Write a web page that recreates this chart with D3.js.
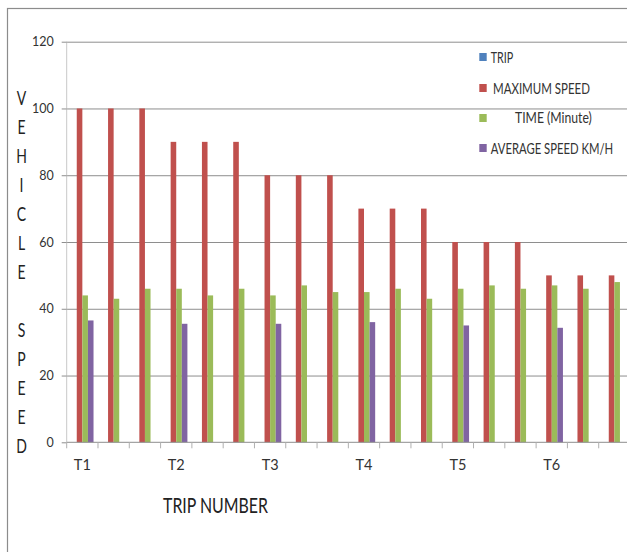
<!DOCTYPE html>
<html>
<head>
<meta charset="utf-8">
<script src="https://cdn.jsdelivr.net/npm/d3@7/dist/d3.min.js"></script>
<style>
  html, body { margin: 0; padding: 0; background: #fff; }
  svg { display: block; font-family: Lato, "Open Sans", sans-serif; }
</style>
</head>
<body>
<svg id="chart" width="627" height="552"></svg>
<script>
// Trip records: one entry per run, grouped in threes under T1..T6
const tripIds = [1, 2, 3, 4, 5, 6, 7, 8, 9, 10, 11, 12, 13, 14, 15, 16, 17, 18];
const tickLabels = ["T1", "", "", "T2", "", "", "T3", "", "", "T4", "", "", "T5", "", "", "T6", "", ""];
const seriesNames = ["TRIP", "MAXIMUM SPEED", "TIME (Minute)", "AVERAGE SPEED KM/H"];
const seriesColors = ["#4F81BD", "#C0504D", "#9BBB59", "#8064A2"];
const tripValues = [0, 0, 0, 0, 0, 0, 0, 0, 0, 0, 0, 0, 0, 0, 0, 0, 0, 0];
const maxSpeed = [100, 100, 100, 90, 90, 90, 80, 80, 80, 70, 70, 70, 60, 60, 60, 50, 50, 50];
const timeMinute = [44, 43, 46, 46, 44, 46, 44, 47, 45, 45, 46, 43, 46, 47, 46, 47, 46, 48];
const avgSpeed = [36.5, null, null, 35.5, null, null, 35.5, null, null, 36, null, null, 35, null, null, 34.3, null, null];
const yTicks = [0, 20, 40, 60, 80, 100, 120];
const yTitle = ["V", "E", "H", "I", "C", "L", "E", "", "S", "P", "E", "E", "D"];
const xTitle = "TRIP NUMBER";

const seriesValues = [tripValues, maxSpeed, timeMinute, avgSpeed];

const svg = d3.select("#chart");
const plot = { left: 66.7, right: 630, top: 41.7, bottom: 442.3 };

// squeeze a text horizontally so it spans the given width
function fitWidth(sel, x, y, width) {
  const natural = sel.node().getComputedTextLength();
  sel.attr("transform", `translate(${x},${y}) scale(${width / natural},1)`);
}

// outer chart frame
svg.append("rect")
  .attr("x", 7.5).attr("y", 8.5)
  .attr("width", 660).attr("height", 600)
  .attr("fill", "none").attr("stroke", "#8c8c8c").attr("stroke-width", 1.2);

const x0 = d3.scaleBand().domain(tripIds).range([plot.left, plot.right]).padding(0);
const x1 = d3.scaleBand().domain(d3.range(seriesNames.length))
  .range([0, x0.bandwidth()]).paddingInner(0).paddingOuter(0.8);
const y = d3.scaleLinear().domain([0, 120]).range([plot.bottom, plot.top]);

// horizontal gridlines
svg.append("g")
  .attr("transform", `translate(${plot.left},0)`)
  .call(d3.axisLeft(y).tickValues(yTicks.filter(v => v > 0)).tickSize(-(plot.right - plot.left)).tickFormat(""))
  .call(g => g.select(".domain").remove())
  .call(g => g.selectAll("line").attr("stroke", "#8e8e8e").attr("stroke-width", 1));

// value axis
const yAxis = svg.append("g")
  .attr("transform", `translate(${plot.left},0)`)
  .call(d3.axisLeft(y).tickValues(yTicks).tickSize(5).tickPadding(8));
yAxis.select(".domain").attr("stroke", "#c8c8c8").attr("d", `M0,${plot.top}V${plot.bottom}`);
yAxis.selectAll("line").attr("stroke", "#8e8e8e");
yAxis.selectAll("text").attr("font-size", 12.5).attr("fill", "#333")
  .attr("font-family", "Lato, sans-serif");

// bars
const groups = svg.append("g").selectAll("g")
  .data(tripIds)
  .join("g")
  .attr("transform", d => `translate(${x0(d)},0)`);

groups.selectAll("rect")
  .data((d, i) => seriesValues.map((vals, s) => ({ s, v: vals[i] })).filter(e => e.v != null && e.v > 0))
  .join("rect")
  .attr("x", e => x1(e.s))
  .attr("width", x1.bandwidth())
  .attr("y", e => y(e.v))
  .attr("height", e => y(0) - y(e.v))
  .attr("fill", e => seriesColors[e.s]);

// category axis: labels under the centres, tick marks at group boundaries
const xAxis = svg.append("g")
  .attr("transform", `translate(0,${plot.bottom})`)
  .call(d3.axisBottom(x0).tickSize(0).tickPadding(17).tickFormat((d, i) => tickLabels[i]));
xAxis.select(".domain").attr("stroke", "#8e8e8e").attr("d", `M${plot.left},0H${plot.right}`);
xAxis.selectAll("text").attr("font-size", 14.5).attr("fill", "#333")
  .attr("font-family", "Lato, sans-serif");

svg.append("g")
  .selectAll("line")
  .data([tripIds[0]].concat(tripIds))
  .join("line")
  .attr("x1", (d, i) => i === 0 ? x0(d) : x0(d) + x0.bandwidth())
  .attr("x2", (d, i) => i === 0 ? x0(d) : x0(d) + x0.bandwidth())
  .attr("y1", plot.bottom)
  .attr("y2", plot.bottom + 6)
  .attr("stroke", "#b0b0b0");

// vertical axis title, one letter per line
svg.append("g").selectAll("text")
  .data(yTitle)
  .join("text")
  .attr("transform", (d, i) => `translate(21.5,${98 + i * 29}) scale(0.8,1.05)`)
  .attr("text-anchor", "middle")
  .attr("dominant-baseline", "central")
  .attr("font-size", 17.5)
  .attr("fill", "#222")
  .text(d => d);

// horizontal axis title
svg.append("text")
  .attr("font-size", 21)
  .attr("fill", "#222")
  .text(xTitle)
  .call(fitWidth, 163, 513, 105);

// legend
const legendY = [57, 88, 118, 148];
const legendTextX = [490.7, 493, 515, 490.7];
const legendTextW = [22.6, 97, 77, 122.6];
const legend = svg.append("g");
seriesNames.forEach((name, i) => {
  legend.append("rect")
    .attr("x", 479.3).attr("y", legendY[i] - 4)
    .attr("width", 7.4).attr("height", 8)
    .attr("fill", seriesColors[i]);
  legend.append("text")
    .attr("dominant-baseline", "central")
    .attr("font-size", 15)
    .attr("fill", "#333")
    .text(name)
    .call(fitWidth, legendTextX[i], legendY[i], legendTextW[i]);
});
</script>
</body>
</html>
